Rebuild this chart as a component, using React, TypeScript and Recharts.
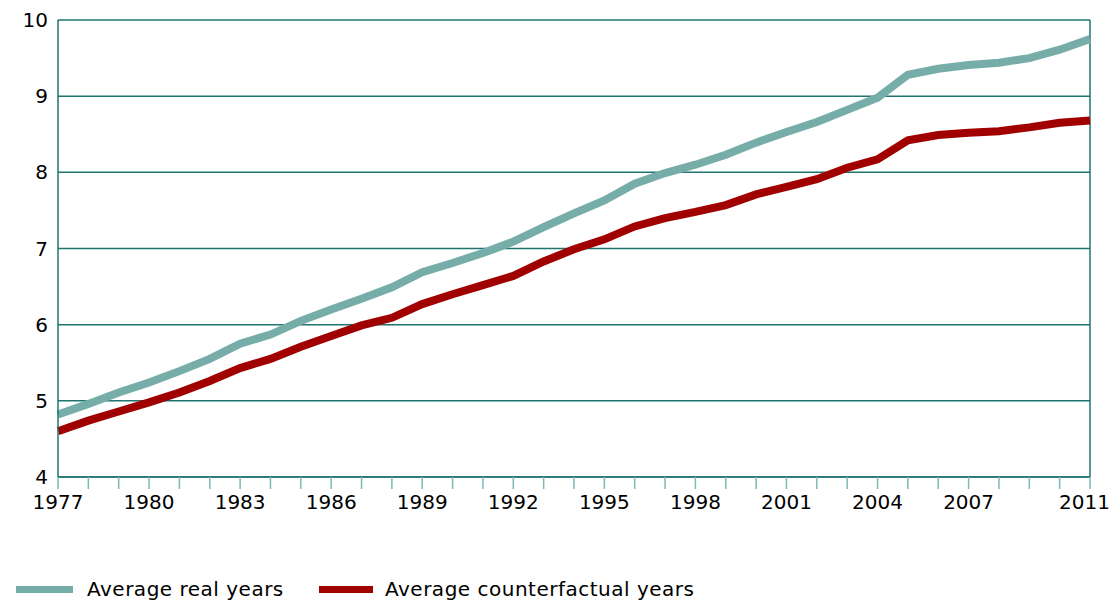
import React from 'react';
import { LineChart, Line, XAxis, YAxis, CartesianGrid, Legend, ReferenceLine } from 'recharts';

const years = [1977,1978,1979,1980,1981,1982,1983,1984,1985,1986,1987,1988,1989,1990,1991,1992,1993,1994,1995,1996,1997,1998,1999,2000,2001,2002,2003,2004,2005,2006,2007,2008,2009,2010,2011];
const realYears = [4.82,4.96,5.11,5.24,5.39,5.55,5.75,5.87,6.05,6.20,6.34,6.49,6.69,6.81,6.94,7.09,7.28,7.46,7.63,7.85,7.99,8.10,8.23,8.39,8.53,8.66,8.82,8.98,9.28,9.36,9.41,9.44,9.50,9.61,9.75];
const counterfactualYears = [4.60,4.74,4.86,4.98,5.11,5.26,5.43,5.55,5.71,5.85,5.99,6.09,6.27,6.40,6.52,6.64,6.83,6.99,7.12,7.29,7.40,7.48,7.57,7.71,7.81,7.91,8.06,8.17,8.42,8.49,8.52,8.54,8.59,8.65,8.68];
const labeledYears = [1977,1980,1983,1986,1989,1992,1995,1998,2001,2004,2007,2011];
const yTicks = [4,5,6,7,8,9,10];
const seriesNames = ['Average real years', 'Average counterfactual years'];
const colors = ['#76ADA9', '#A00000'];

const data = years.map((y, i) => ({ year: y, real: realYears[i], cf: counterfactualYears[i] }));

const FONT = '"DejaVu Sans", Verdana, sans-serif';

const LegendContent = () => (
  <div style={{ position: 'relative', height: 28, fontFamily: FONT, fontSize: 20, lineHeight: '24px', letterSpacing: 0.5, color: '#000' }}>
    <div style={{ position: 'absolute', left: 8, top: 12, width: 57, height: 7, background: colors[0] }} />
    <div style={{ position: 'absolute', left: 79, top: 3, whiteSpace: 'nowrap' }}>{seriesNames[0]}</div>
    <div style={{ position: 'absolute', left: 311, top: 12, width: 54, height: 7, background: colors[1] }} />
    <div style={{ position: 'absolute', left: 377, top: 3, whiteSpace: 'nowrap' }}>{seriesNames[1]}</div>
  </div>
);

const XTick = (props: any) => {
  const { x, y, payload } = props;
  const v = payload.value as number;
  if (!labeledYears.includes(v)) return null;
  const isLast = v === years[years.length - 1];
  return (
    <text
      x={isLast ? x + 20 : x}
      y={y}
      dy="0.71em"
      textAnchor={isLast ? 'end' : 'middle'}
      fill="#000"
      fontSize={20}
      fontFamily={FONT}
    >
      {String(v)}
    </text>
  );
};

export default function App() {
  return (
    <div style={{ width: 1110, height: 596, position: 'relative' }}>
      <LineChart width={1110} height={596} data={data} margin={{ top: 12, right: 28, left: 0, bottom: 69 }}>
        <CartesianGrid horizontal={true} vertical={false} stroke="#1F7470" strokeWidth={1.5} />
        <XAxis
          dataKey="year"
          type="number"
          domain={[1977, 2011]}
          ticks={years}
          interval={0}
          tickSize={12}
          tickMargin={6}
          height={30}
          axisLine={{ stroke: '#1F7470', strokeWidth: 1.5 }}
          tickLine={{ stroke: '#7DB9B5', strokeWidth: 1.5 }}
          tick={<XTick />}
        />
        <YAxis
          type="number"
          domain={[4, 10]}
          ticks={yTicks}
          interval={0}
          width={50}
          tickLine={false}
          tickMargin={4}
          axisLine={{ stroke: '#1F7470', strokeWidth: 1.5 }}
          tick={{ fill: '#000', fontSize: 20, fontFamily: FONT }}
        />
        <ReferenceLine x={2011} stroke="#1F7470" strokeWidth={1.5} />
        <Line type="linear" dataKey="real" name={seriesNames[0]} stroke={colors[0]} strokeWidth={8} dot={false} isAnimationActive={false} />
        <Line type="linear" dataKey="cf" name={seriesNames[1]} stroke={colors[1]} strokeWidth={8} dot={false} isAnimationActive={false} />
        <Legend content={<LegendContent />} wrapperStyle={{ position: 'absolute', left: 0, top: 566, width: 1110 }} />
      </LineChart>
    </div>
  );
}
